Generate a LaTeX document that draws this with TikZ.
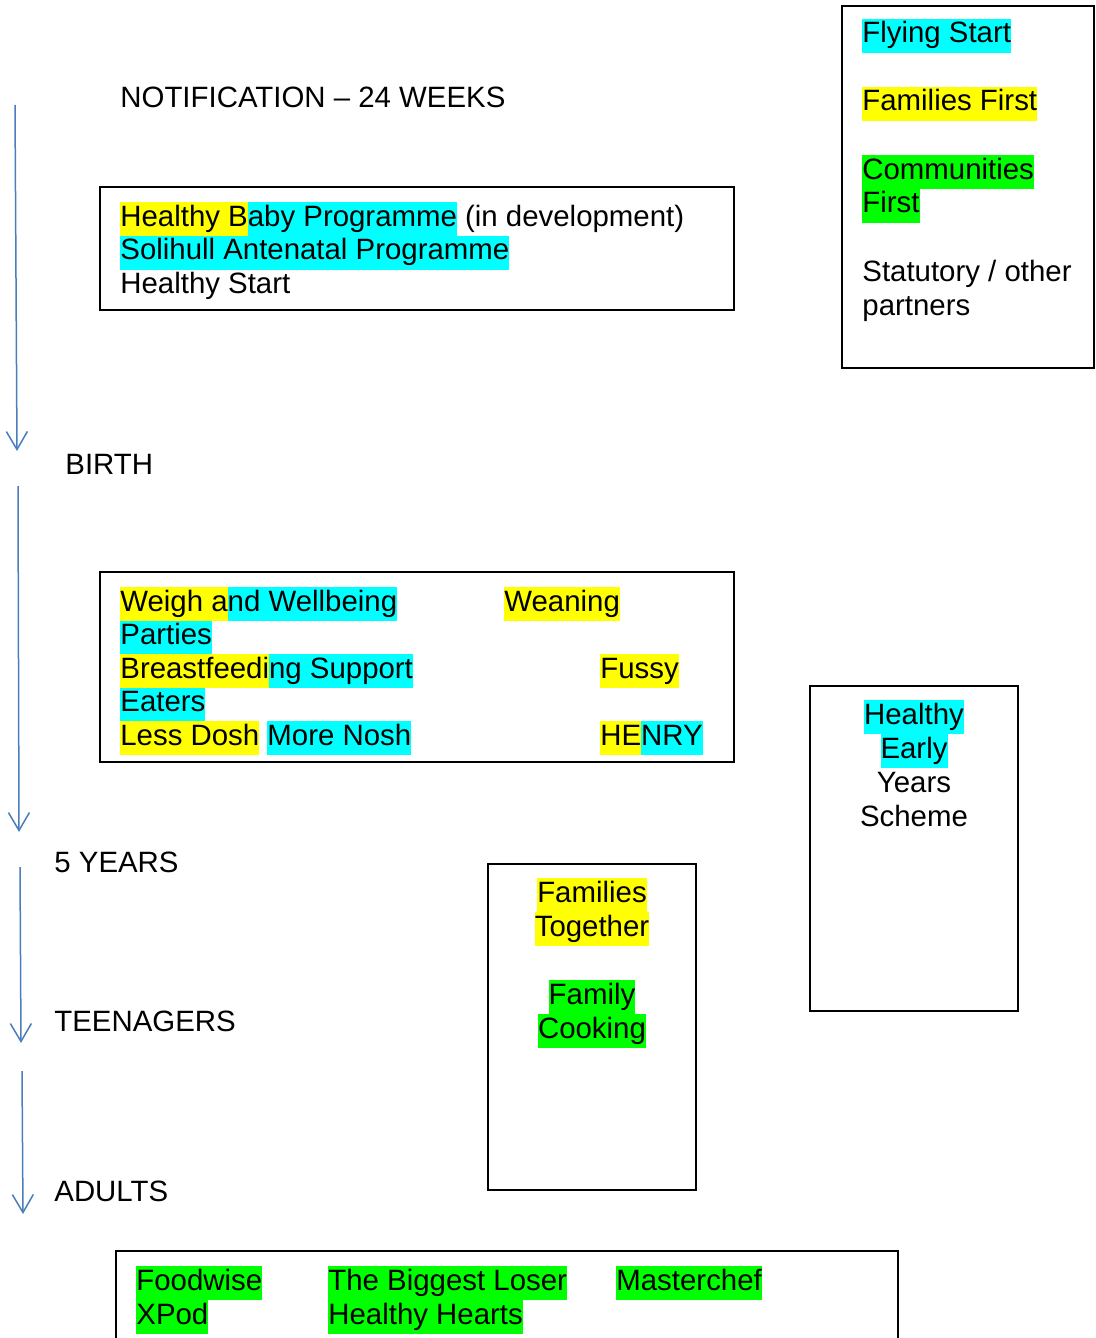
\documentclass[tikz,border=0pt]{standalone}
\usepackage{fontspec}
\setmainfont{Liberation Sans}
\usetikzlibrary{arrows.meta}
\definecolor{hlyellow}{RGB}{255,255,0}
\definecolor{hlcyan}{RGB}{0,255,255}
\definecolor{hlgreen}{RGB}{0,255,0}
\definecolor{lineblue}{RGB}{74,126,187}
\newcommand{\hilite}[2]{{\setlength{\fboxsep}{0pt}\colorbox{#1}{\strut #2}}}

\begin{document}
\begin{tikzpicture}[x=0.5pt,y=-0.5pt,
  box/.style={draw=black,line width=0.8pt}]
	\useasboundingbox (0,0) rectangle (1096,1338);

	% boxes
	\draw[box] (100,187) rectangle (734,310);
	\draw[box] (842,6) rectangle (1094,368);
	\draw[box] (100,572) rectangle (734,762);
	\draw[box] (810,686) rectangle (1018,1011);
	\draw[box] (488,864) rectangle (696,1190);
	\draw[box] (116,1251) rectangle (898,1380);

	\begin{scope}[every node/.style={inner sep=0pt,anchor=base west,font=\fontsize{14.7}{17}\selectfont}]
		% stages
		\node (notif) at (120,107.5) {NOTIFICATION -- 24 WEEKS};
		\node (birth) at (65,474) {BIRTH};
		\node (five) at (54,872.5) {5 YEARS};
		\node (teen) at (54,1031.5) {TEENAGERS};
		\node (adult) at (54,1201.5) {ADULTS};

		% antenatal
		\node (hbp) at (120,226) {\hilite{hlyellow}{Healthy B}\hilite{hlcyan}{aby Programme} (in development)};
		\node (sap) at (120,259.5) {\hilite{hlcyan}{Solihull Antenatal Programme}};
		\node (hst) at (120,293) {Healthy Start};

		% key
		\node (fly) at (862,43) {\hilite{hlcyan}{Flying Start}};
		\node (ffirst) at (862,111) {\hilite{hlyellow}{Families First}};
		\node (comm) at (862,179) {\hilite{hlgreen}{Communities}};
		\node (commb) at (862,213) {\hilite{hlgreen}{First}};
		\node (stat) at (862,281) {Statutory / other};
		\node (statb) at (862,315) {partners};

		% early years
		\node (weigh) at (120,611) {\hilite{hlyellow}{Weigh a}\hilite{hlcyan}{nd Wellbeing}};
		\node (weighb) at (120,644.5) {\hilite{hlcyan}{Parties}};
		\node (breast) at (120,678) {\hilite{hlyellow}{Breastfeedi}\hilite{hlcyan}{ng Support}};
		\node (fussyb) at (120,711.5) {\hilite{hlcyan}{Eaters}};
		\node (dosh) at (120,745) {\hilite{hlyellow}{Less Dosh} \hilite{hlcyan}{More Nosh}};
		\node (wean) at (504,611) {\hilite{hlyellow}{Weaning}};
		\node (fussy) at (600,678) {\hilite{hlyellow}{Fussy}};
		\node (henry) at (600,745) {\hilite{hlyellow}{HE}\hilite{hlcyan}{NRY}};

		% adults
		\node (food) at (136,1290) {\hilite{hlgreen}{Foodwise}};
		\node (xpod) at (136,1324) {\hilite{hlgreen}{XPod}};
		\node (loser) at (328,1290) {\hilite{hlgreen}{The Biggest Loser}};
		\node (hearts) at (328,1324) {\hilite{hlgreen}{Healthy Hearts}};
		\node (chef) at (616,1290) {\hilite{hlgreen}{Masterchef}};
	\end{scope}

	\begin{scope}[every node/.style={inner sep=0pt,anchor=base,font=\fontsize{14.7}{17}\selectfont}]
		\node (heys) at (914,724) {\hilite{hlcyan}{Healthy}};
		\node (heysb) at (914,758) {\hilite{hlcyan}{Early}};
		\node (heysc) at (914,792) {Years};
		\node (heysd) at (914,826) {Scheme};

		\node (ftog) at (592,902) {\hilite{hlyellow}{Families}};
		\node (ftogb) at (592,936) {\hilite{hlyellow}{Together}};
		\node (fcook) at (592,1004) {\hilite{hlgreen}{Family}};
		\node (fcookb) at (592,1038) {\hilite{hlgreen}{Cooking}};
	\end{scope}

	% timeline
	\coordinate (t1) at (15,105);
	\coordinate (t2) at (17,451);
	\coordinate (t3) at (18,486);
	\coordinate (t4) at (19,832);
	\coordinate (t5) at (20,867);
	\coordinate (t6) at (21,1043);
	\coordinate (t7) at (22,1071);
	\coordinate (t8) at (23,1214);

	\begin{scope}[every edge/.style={draw=lineblue,line width=0.75pt}]
		\path [-{Straight Barb[length=9pt,width=10.5pt]}] (t1) edge (t2);
		\path [-{Straight Barb[length=9pt,width=10.5pt]}] (t3) edge (t4);
		\path [-{Straight Barb[length=9pt,width=10.5pt]}] (t5) edge (t6);
		\path [-{Straight Barb[length=9pt,width=10.5pt]}] (t7) edge (t8);
	\end{scope}
\end{tikzpicture}
\end{document}
